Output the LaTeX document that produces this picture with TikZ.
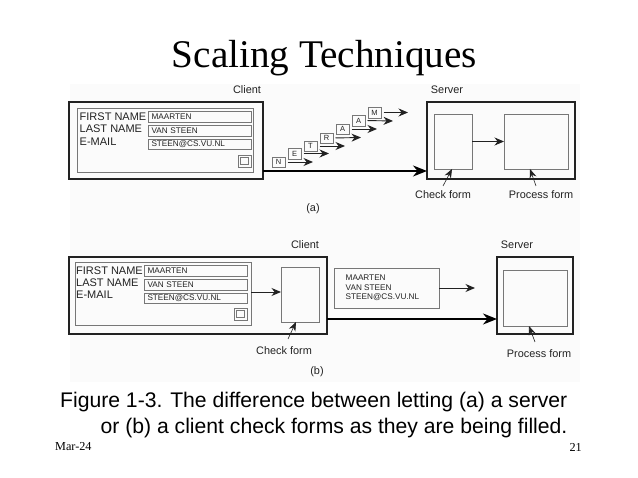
\documentclass[tikz,border=0pt]{standalone}
\usepackage{fontspec}
\setmainfont{Liberation Sans}
\newfontfamily\timesf{Liberation Serif}
\usetikzlibrary{arrows.meta}
\definecolor{ink}{HTML}{222222}
\definecolor{soft}{HTML}{777777}
\definecolor{paper}{HTML}{FBFBFB}
\newcommand{\bx}[7]{%
  \pgfmathsetmacro{\bw}{#5-#3}\pgfmathsetmacro{\bh}{#6-#4}%
  \pgfmathsetmacro{\bcx}{(#5+#3)/2}\pgfmathsetmacro{\bcy}{(#6+#4)/2}%
  \node[#2,minimum width=\bw pt,minimum height=\bh pt] (#1) at (\bcx,\bcy) {#7};}
\tikzset{
  outerbox/.style={draw=ink,line width=1.6pt,inner sep=0pt,outer sep=0pt},
  softbox/.style={draw=soft,line width=0.9pt,inner sep=0pt,outer sep=0pt},
  fieldbox/.style={softbox,font=\fontsize{8.2}{9}\selectfont,text=ink,text width=96pt,align=left},
  letterbox/.style={softbox,font=\fontsize{7.5}{8}\selectfont,text=ink},
  lab/.style={font=\fontsize{10.9}{12}\selectfont,text=ink,inner sep=0pt},
  formlab/.style={font=\fontsize{11}{10}\selectfont,text=ink,inner sep=0pt,anchor=west},
  thin arrow/.style={draw=ink,line width=0.9pt,-{Stealth[length=9.5pt,width=8pt]}},
  letter arrow/.style={thin arrow,shorten <=2.5pt},
  thick arrow/.style={draw=black,line width=1.8pt,-{Stealth[length=14pt,width=11pt]}},
  pointer/.style={draw=ink,line width=0.6pt,-{Stealth[length=9pt,width=7pt]}},
}
\begin{document}
\begin{tikzpicture}[x=1pt,y=-1pt]
\useasboundingbox (0,0) rectangle (638,478);
\fill[paper] (70,84) rectangle (580,382);
% title
\node[font=\timesf\fontsize{39.2}{42}\selectfont,inner sep=0pt] (title) at (324.5,58) {Scaling Techniques};
% (a) client
\bx{cla}{outerbox}{69}{102}{263}{179}{}
\bx{forma}{softbox}{77}{108}{253}{172}{}
\bx{f1a}{fieldbox}{148}{111}{251}{122}{MAARTEN}
\bx{f2a}{fieldbox}{148}{125}{251}{136}{VAN STEEN}
\bx{f3a}{fieldbox}{148}{139}{251}{149}{STEEN@CS.VU.NL}
\bx{b1a}{softbox}{238}{155}{251}{167}{}
\bx{b2a}{softbox}{240.5}{157.5}{248.5}{164.5}{}
\node[formlab] (l1a) at (79.5,117) {FIRST NAME};
\node[formlab] (l2a) at (79.5,129) {LAST NAME};
\node[formlab] (l3a) at (79.5,142) {E-MAIL};
\node[lab] (ca) at (247,90) {Client};
\node[lab] (sa) at (447,90) {Server};
\node[lab] (pa) at (313,209) {(a)};
% letters
\bx{N}{letterbox}{272}{157}{285}{167}{N}
\bx{E}{letterbox}{288}{148}{301}{159}{E}
\bx{T}{letterbox}{304}{141}{317}{151}{T}
\bx{R}{letterbox}{320}{133}{333}{143}{R}
\bx{A}{letterbox}{336}{124}{349}{134}{A}
\bx{AA}{letterbox}{352}{115}{365}{126}{A}
\bx{M}{letterbox}{368}{107}{381}{118}{M}
\coordinate (tN) at (313,162);
\coordinate (tE) at (329,153.5);
\coordinate (tT) at (345,146);
\coordinate (tR) at (361,137.5);
\coordinate (tA) at (377,129);
\coordinate (tAA) at (393,121);
\coordinate (tM) at (408,112.5);
\draw[letter arrow] (N.east) -- (tN);
\draw[letter arrow] (E.east) -- (tE);
\draw[letter arrow] (T.east) -- (tT);
\draw[letter arrow] (R.east) -- (tR);
\draw[letter arrow] (A.east) -- (tA);
\draw[letter arrow] (AA.east) -- (tAA);
\draw[letter arrow] (M.east) -- (tM);
% (a) server
\bx{sva}{outerbox}{427}{102}{575}{179}{}
\bx{chk}{softbox}{434}{114}{472}{169}{}
\bx{proc}{softbox}{504}{114}{568}{169}{}
\draw[thin arrow] (chk.east) -- (proc.west);
\draw[thick arrow] (cla.east |- 0,171) -- (sva.west |- 0,171);
\node[lab] (lchk) at (443,195) {Check form};
\node[lab] (lproc) at (541,195) {Process form};
\coordinate (tchk) at (452,169);
\coordinate (tproc) at (530,169);
\coordinate (schk) at (443,186);
\coordinate (sproc) at (536,186);
\draw[pointer] (schk) -- (tchk);
\draw[pointer] (sproc) -- (tproc);
% (b) client
\bx{clb}{outerbox}{69}{257}{327}{334}{}
\bx{formb}{softbox}{75}{262}{251}{325}{}
\bx{f1b}{fieldbox}{144}{265}{247}{276}{MAARTEN}
\bx{f2b}{fieldbox}{144}{279}{247}{290}{VAN STEEN}
\bx{f3b}{fieldbox}{144}{293}{247}{303}{STEEN@CS.VU.NL}
\bx{b1b}{softbox}{234}{308}{247}{320}{}
\bx{b2b}{softbox}{236.5}{310.5}{244.5}{317.5}{}
\node[formlab] (l1b) at (76,271) {FIRST NAME};
\node[formlab] (l2b) at (76,283) {LAST NAME};
\node[formlab] (l3b) at (76,295) {E-MAIL};
\bx{chkb}{softbox}{281}{267}{319}{322}{}
\draw[thin arrow] (formb.east |- 0,292) -- (chkb.west |- 0,292);
\node[lab] (cb) at (305,245) {Client};
\node[lab] (sb) at (517,245) {Server};
\node[lab] (pb) at (317,372) {(b)};
\node[lab] (lchkb) at (284,351) {Check form};
\coordinate (schkb) at (288,339);
\coordinate (tchkb) at (296,322);
\draw[pointer] (schkb) -- (tchkb);
% message
\bx{msg}{softbox}{334}{268}{439}{308}{}
\node[font=\fontsize{8.2}{9.5}\selectfont,text=ink,align=left,anchor=west,inner sep=0pt] (msgt) at (345.5,288) {MAARTEN\\VAN STEEN\\STEEN@CS.VU.NL};
\coordinate (tmsg) at (475,288);
\draw[thin arrow] (msg.east) -- (tmsg);
% (b) server
\bx{svb}{outerbox}{497}{257}{573}{334}{}
\bx{procb}{softbox}{503}{270}{567}{326}{}
\draw[thick arrow] (clb.east |- 0,319) -- (svb.west |- 0,319);
\node[lab] (lprocb) at (539,354) {Process form};
\coordinate (sprocb) at (535,342);
\coordinate (tprocb) at (529,326);
\draw[pointer] (sprocb) -- (tprocb);
% caption
\node[font=\fontsize{21.15}{24}\selectfont,anchor=west,inner sep=0pt] (cap1) at (60,402) {Figure 1-3. The difference between letting (a) a server};
\node[font=\fontsize{21.15}{24}\selectfont,anchor=west,inner sep=0pt] (cap2) at (100.5,428) {or (b) a client check forms as they are being filled.};
\node[font=\timesf\fontsize{12.2}{14}\selectfont,anchor=west,inner sep=0pt] (date) at (55,447) {Mar-24};
\node[font=\timesf\fontsize{12.2}{14}\selectfont,anchor=east,inner sep=0pt] (num) at (582,447) {21};
\end{tikzpicture}
\end{document}
